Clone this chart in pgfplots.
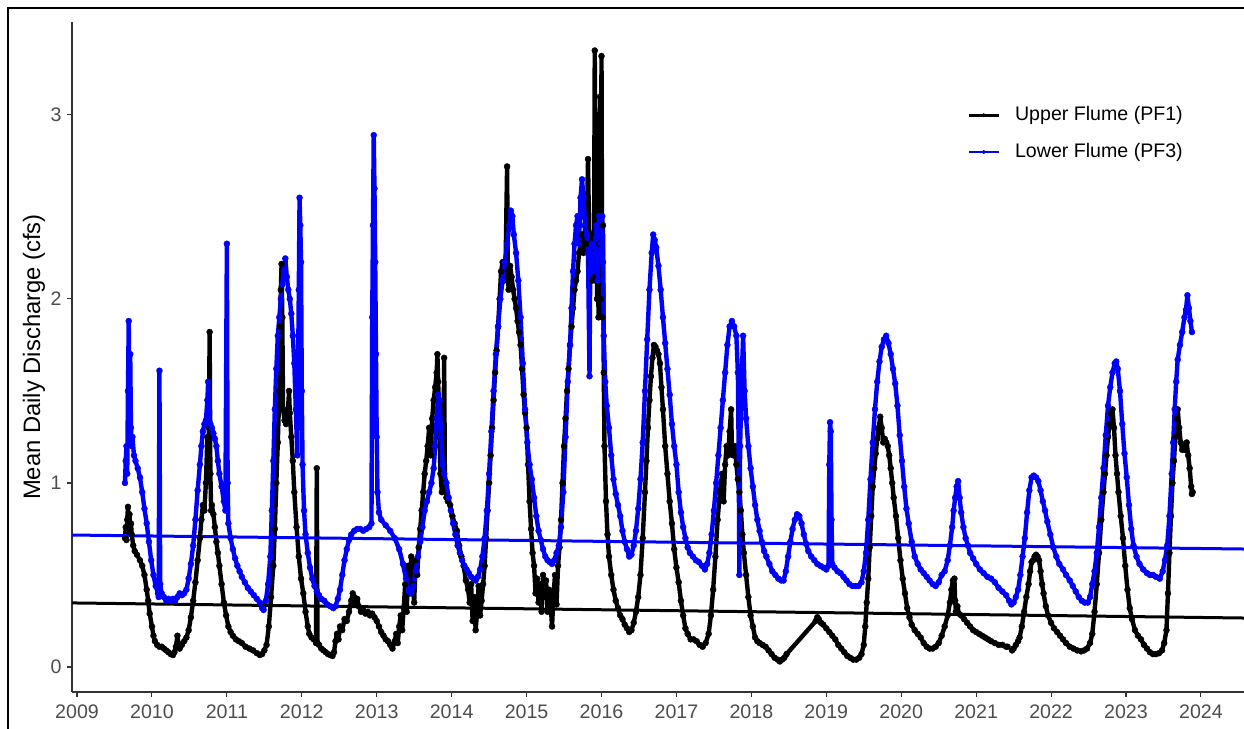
\documentclass[border=0pt]{standalone}
\usepackage{fontspec}
\setmainfont{Liberation Sans}
\usepackage{pgfplots}
\pgfplotsset{compat=1.18}
\definecolor{tickgray}{RGB}{77,77,77}
\definecolor{axgray}{RGB}{51,51,51}
\definecolor{pfblue}{RGB}{0,0,255}

\pgfplotstableread{
x y
2009.64 0.70
2009.65 0.76
2009.66 0.69
2009.67 0.80
2009.68 0.87
2009.69 0.79
2009.70 0.83
2009.71 0.75
2009.72 0.78
2009.73 0.72
2009.75 0.66
2009.77 0.63
2009.80 0.61
2009.84 0.58
2009.87 0.55
2009.90 0.50
2009.93 0.42
2009.95 0.36
2009.97 0.29
2010.00 0.22
2010.02 0.17
2010.04 0.14
2010.07 0.12
2010.10 0.11
2010.13 0.11
2010.16 0.10
2010.19 0.09
2010.22 0.08
2010.25 0.07
2010.28 0.065
2010.30 0.08
2010.32 0.11
2010.34 0.17
2010.35 0.13
2010.37 0.10
2010.40 0.12
2010.43 0.14
2010.46 0.16
2010.49 0.20
2010.52 0.27
2010.55 0.36
2010.58 0.46
2010.61 0.58
2010.64 0.70
2010.66 0.80
2010.68 0.88
2010.70 0.85
2010.72 1.00
2010.74 1.25
2010.75 1.10
2010.76 1.30
2010.77 1.82
2010.78 1.05
2010.79 0.85
2010.80 0.88
2010.82 0.83
2010.84 0.76
2010.86 0.68
2010.88 0.62
2010.90 0.55
2010.93 0.45
2010.96 0.35
2010.99 0.28
2011.02 0.22
2011.05 0.19
2011.08 0.17
2011.12 0.15
2011.16 0.14
2011.20 0.13
2011.25 0.11
2011.30 0.10
2011.35 0.09
2011.40 0.075
2011.44 0.065
2011.47 0.07
2011.50 0.09
2011.53 0.12
2011.56 0.22
2011.59 0.38
2011.62 0.55
2011.64 0.75
2011.66 1.00
2011.68 1.22
2011.70 1.50
2011.71 1.85
2011.72 2.05
2011.73 2.19
2011.74 1.90
2011.75 1.40
2011.77 1.34
2011.79 1.32
2011.81 1.36
2011.83 1.50
2011.84 1.38
2011.86 1.25
2011.88 1.12
2011.90 0.95
2011.93 0.76
2011.96 0.60
2011.99 0.48
2012.02 0.40
2012.05 0.30
2012.08 0.22
2012.10 0.18
2012.13 0.16
2012.16 0.15
2012.19 0.13
2012.20 1.08
2012.21 0.13
2012.23 0.12
2012.26 0.10
2012.29 0.09
2012.32 0.08
2012.35 0.07
2012.38 0.065
2012.41 0.06
2012.43 0.08
2012.45 0.14
2012.47 0.18
2012.49 0.15
2012.51 0.22
2012.54 0.20
2012.57 0.26
2012.60 0.25
2012.63 0.30
2012.66 0.36
2012.68 0.40
2012.70 0.38
2012.72 0.34
2012.74 0.37
2012.76 0.33
2012.79 0.30
2012.82 0.31
2012.85 0.29
2012.88 0.30
2012.91 0.28
2012.94 0.29
2012.97 0.27
2013.00 0.25
2013.03 0.22
2013.06 0.19
2013.09 0.17
2013.12 0.15
2013.15 0.14
2013.18 0.12
2013.21 0.10
2013.24 0.14
2013.26 0.18
2013.28 0.13
2013.30 0.22
2013.32 0.28
2013.34 0.20
2013.36 0.32
2013.38 0.45
2013.40 0.30
2013.42 0.55
2013.44 0.40
2013.46 0.60
2013.48 0.45
2013.50 0.35
2013.52 0.58
2013.54 0.50
2013.56 0.65
2013.58 0.75
2013.60 0.85
2013.62 0.95
2013.64 1.05
2013.66 1.12
2013.68 1.20
2013.70 1.30
2013.72 1.15
2013.74 1.35
2013.76 1.45
2013.78 1.52
2013.80 1.60
2013.81 1.70
2013.82 1.55
2013.84 1.25
2013.85 1.05
2013.87 0.95
2013.89 1.10
2013.90 1.68
2013.91 1.00
2013.93 0.92
2013.95 0.90
2013.98 0.88
2014.01 0.82
2014.04 0.78
2014.07 0.74
2014.10 0.66
2014.13 0.60
2014.16 0.55
2014.19 0.47
2014.22 0.42
2014.24 0.35
2014.26 0.45
2014.28 0.25
2014.30 0.38
2014.32 0.20
2014.34 0.30
2014.36 0.44
2014.38 0.28
2014.40 0.36
2014.42 0.45
2014.44 0.55
2014.46 0.70
2014.48 0.85
2014.50 1.00
2014.52 1.15
2014.54 1.30
2014.56 1.45
2014.58 1.60
2014.60 1.72
2014.62 1.85
2014.64 2.00
2014.66 2.15
2014.68 2.20
2014.70 2.10
2014.72 2.20
2014.74 2.72
2014.75 2.15
2014.76 2.05
2014.78 2.18
2014.80 2.12
2014.82 2.05
2014.84 2.00
2014.86 1.95
2014.88 1.88
2014.90 1.82
2014.92 1.75
2014.94 1.62
2014.96 1.48
2014.98 1.38
2015.00 1.30
2015.02 1.10
2015.04 0.90
2015.06 0.75
2015.08 0.62
2015.10 0.55
2015.12 0.40
2015.14 0.48
2015.16 0.35
2015.18 0.45
2015.20 0.30
2015.22 0.50
2015.24 0.38
2015.26 0.47
2015.28 0.30
2015.30 0.42
2015.32 0.35
2015.34 0.22
2015.36 0.40
2015.38 0.50
2015.40 0.34
2015.42 0.55
2015.44 0.65
2015.46 0.80
2015.48 1.00
2015.50 1.20
2015.52 1.35
2015.54 1.50
2015.56 1.62
2015.58 1.75
2015.60 1.85
2015.62 1.95
2015.64 2.05
2015.66 2.10
2015.68 2.15
2015.70 2.25
2015.72 2.30
2015.74 2.35
2015.76 2.25
2015.78 2.40
2015.80 2.30
2015.82 2.76
2015.84 2.20
2015.86 2.35
2015.88 2.10
2015.90 2.25
2015.91 3.35
2015.92 2.10
2015.93 3.00
2015.94 2.00
2015.95 2.60
2015.96 1.90
2015.97 2.30
2015.98 3.10
2015.99 2.00
2016.00 3.32
2016.01 1.90
2016.02 2.40
2016.03 1.60
2016.04 1.20
2016.06 0.90
2016.08 0.72
2016.10 0.60
2016.13 0.50
2016.16 0.42
2016.19 0.36
2016.22 0.32
2016.25 0.28
2016.28 0.26
2016.31 0.23
2016.34 0.21
2016.37 0.19
2016.40 0.20
2016.43 0.24
2016.46 0.30
2016.49 0.38
2016.52 0.50
2016.55 0.70
2016.58 0.95
2016.60 1.12
2016.62 1.30
2016.64 1.45
2016.66 1.58
2016.68 1.68
2016.70 1.75
2016.72 1.74
2016.74 1.72
2016.76 1.70
2016.78 1.65
2016.80 1.52
2016.82 1.40
2016.85 1.20
2016.88 1.05
2016.91 0.90
2016.94 0.78
2016.97 0.64
2017.00 0.54
2017.03 0.46
2017.06 0.36
2017.09 0.28
2017.12 0.21
2017.15 0.18
2017.19 0.15
2017.23 0.15
2017.27 0.14
2017.31 0.12
2017.35 0.11
2017.39 0.13
2017.43 0.18
2017.46 0.28
2017.49 0.42
2017.52 0.60
2017.55 0.80
2017.58 0.95
2017.61 1.05
2017.63 0.90
2017.65 1.10
2017.67 1.20
2017.69 1.15
2017.71 1.28
2017.73 1.40
2017.74 1.20
2017.76 1.15
2017.78 1.20
2017.80 1.10
2017.82 1.02
2017.84 0.95
2017.86 0.85
2017.88 0.72
2017.90 0.62
2017.93 0.50
2017.96 0.38
2017.99 0.28
2018.02 0.22
2018.05 0.16
2018.08 0.14
2018.11 0.13
2018.15 0.12
2018.19 0.11
2018.23 0.09
2018.27 0.07
2018.31 0.05
2018.35 0.04
2018.38 0.03
2018.41 0.04
2018.44 0.05
2018.47 0.07
2018.86 0.25
2018.88 0.27
2018.90 0.26
2018.93 0.24
2018.96 0.23
2019.00 0.21
2019.04 0.19
2019.08 0.17
2019.12 0.15
2019.16 0.12
2019.20 0.10
2019.24 0.08
2019.28 0.06
2019.32 0.05
2019.36 0.04
2019.40 0.04
2019.44 0.05
2019.47 0.07
2019.50 0.12
2019.52 0.22
2019.54 0.35
2019.56 0.48
2019.58 0.65
2019.60 0.82
2019.62 0.98
2019.64 1.08
2019.66 1.16
2019.68 1.24
2019.70 1.30
2019.72 1.36
2019.74 1.30
2019.76 1.22
2019.78 1.24
2019.80 1.22
2019.82 1.20
2019.84 1.15
2019.86 1.08
2019.88 1.00
2019.90 0.92
2019.93 0.82
2019.96 0.70
2019.99 0.58
2020.02 0.48
2020.05 0.40
2020.08 0.32
2020.11 0.27
2020.14 0.23
2020.18 0.20
2020.22 0.18
2020.26 0.16
2020.30 0.13
2020.34 0.11
2020.38 0.10
2020.42 0.10
2020.46 0.11
2020.50 0.13
2020.54 0.17
2020.58 0.22
2020.62 0.28
2020.65 0.35
2020.67 0.42
2020.69 0.47
2020.70 0.44
2020.71 0.48
2020.72 0.36
2020.73 0.30
2020.75 0.33
2020.77 0.29
2020.80 0.28
2020.84 0.26
2020.88 0.24
2020.92 0.22
2020.96 0.20
2021.00 0.19
2021.04 0.18
2021.08 0.17
2021.12 0.16
2021.16 0.15
2021.20 0.14
2021.25 0.13
2021.30 0.12
2021.35 0.12
2021.40 0.11
2021.42 0.11
2021.45 nan
2021.48 0.09
2021.50 0.10
2021.53 0.12
2021.56 0.14
2021.58 0.16
2021.61 0.22
2021.64 0.30
2021.67 0.38
2021.70 0.45
2021.72 0.52
2021.74 0.57
2021.76 0.58
2021.78 0.60
2021.80 0.61
2021.82 0.60
2021.84 0.58
2021.86 0.52
2021.88 0.45
2021.90 0.40
2021.93 0.33
2021.96 0.28
2022.00 0.24
2022.04 0.21
2022.08 0.19
2022.12 0.17
2022.16 0.15
2022.20 0.13
2022.25 0.11
2022.30 0.10
2022.35 0.09
2022.40 0.085
2022.44 0.09
2022.48 0.10
2022.52 0.13
2022.55 0.18
2022.58 0.30
2022.61 0.45
2022.64 0.62
2022.67 0.80
2022.70 0.95
2022.72 1.05
2022.74 1.15
2022.76 1.25
2022.78 1.32
2022.80 1.38
2022.82 1.40
2022.84 1.30
2022.86 1.15
2022.88 1.05
2022.90 0.95
2022.93 0.82
2022.96 0.70
2022.99 0.55
2023.02 0.42
2023.05 0.32
2023.08 0.26
2023.12 0.20
2023.16 0.17
2023.20 0.15
2023.24 0.12
2023.28 0.10
2023.32 0.08
2023.36 0.07
2023.40 0.07
2023.44 0.075
2023.48 0.09
2023.51 0.13
2023.54 0.20
2023.56 0.40
2023.58 0.62
2023.60 0.82
2023.62 1.00
2023.64 1.12
2023.66 1.25
2023.68 1.35
2023.69 1.40
2023.71 1.30
2023.73 1.22
2023.75 1.18
2023.77 1.20
2023.79 1.18
2023.81 1.22
2023.83 1.15
2023.85 1.08
2023.87 0.98
2023.88 0.94
2023.89 0.95
}\pfone

\pgfplotstableread{
x y
2009.64 1.00
2009.65 1.12
2009.66 1.20
2009.67 1.05
2009.68 1.50
2009.69 1.88
2009.70 1.45
2009.71 1.70
2009.72 1.30
2009.73 1.20
2009.74 1.25
2009.76 1.15
2009.78 1.12
2009.81 1.08
2009.84 1.03
2009.87 0.95
2009.90 0.86
2009.93 0.78
2009.96 0.68
2009.99 0.58
2010.02 0.50
2010.05 0.44
2010.08 0.40
2010.09 0.38
2010.10 1.61
2010.11 0.45
2010.13 0.40
2010.16 0.38
2010.19 0.36
2010.22 0.37
2010.25 0.36
2010.28 0.37
2010.31 0.36
2010.34 0.38
2010.37 0.40
2010.40 0.39
2010.43 0.40
2010.46 0.42
2010.49 0.48
2010.52 0.56
2010.55 0.66
2010.58 0.80
2010.61 0.96
2010.64 1.10
2010.66 1.20
2010.68 1.28
2010.70 1.32
2010.72 1.34
2010.74 1.45
2010.75 1.55
2010.76 1.38
2010.78 1.32
2010.80 1.30
2010.82 1.27
2010.84 1.24
2010.86 1.20
2010.88 1.12
2010.90 1.05
2010.93 0.98
2010.96 0.90
2010.98 0.85
2011.00 2.30
2011.01 1.00
2011.02 0.78
2011.05 0.70
2011.08 0.64
2011.11 0.59
2011.14 0.55
2011.17 0.52
2011.20 0.49
2011.24 0.46
2011.28 0.43
2011.32 0.41
2011.36 0.39
2011.40 0.37
2011.44 0.35
2011.47 0.32
2011.49 0.31
2011.52 0.36
2011.55 0.45
2011.58 0.60
2011.60 0.85
2011.62 1.12
2011.64 1.40
2011.66 1.62
2011.68 1.80
2011.70 1.90
2011.72 2.00
2011.74 2.08
2011.76 2.15
2011.78 2.22
2011.80 2.12
2011.82 2.05
2011.84 2.00
2011.86 1.92
2011.88 1.80
2011.90 1.65
2011.92 1.40
2011.94 1.15
2011.95 1.60
2011.96 2.05
2011.97 2.55
2011.98 2.40
2011.99 2.20
2012.00 1.50
2012.01 1.10
2012.03 0.85
2012.05 0.72
2012.08 0.62
2012.11 0.54
2012.14 0.48
2012.17 0.44
2012.20 0.41
2012.23 0.39
2012.26 0.37
2012.30 0.36
2012.34 0.34
2012.38 0.33
2012.42 0.32
2012.45 0.33
2012.48 0.37
2012.51 0.42
2012.54 0.50
2012.57 0.58
2012.60 0.64
2012.63 0.69
2012.66 0.72
2012.70 0.74
2012.74 0.75
2012.78 0.75
2012.82 0.74
2012.86 0.75
2012.90 0.76
2012.93 0.78
2012.94 1.90
2012.95 2.40
2012.96 2.89
2012.97 2.60
2012.98 2.20
2012.99 1.70
2013.00 1.25
2013.01 0.95
2013.03 0.84
2013.06 0.80
2013.12 0.77
2013.18 0.74
2013.24 0.70
2013.30 0.64
2013.35 0.56
2013.39 0.48
2013.43 0.41
2013.46 0.40
2013.49 0.44
2013.52 0.52
2013.55 0.60
2013.58 0.68
2013.61 0.76
2013.64 0.85
2013.67 0.90
2013.70 0.95
2013.73 1.00
2013.76 1.08
2013.78 1.20
2013.80 1.35
2013.82 1.48
2013.84 1.45
2013.86 1.25
2013.88 1.10
2013.90 1.05
2013.93 1.00
2013.96 0.92
2013.99 0.85
2014.02 0.78
2014.05 0.72
2014.08 0.66
2014.11 0.62
2014.14 0.58
2014.17 0.55
2014.20 0.53
2014.23 0.51
2014.26 0.49
2014.29 0.48
2014.32 0.47
2014.35 0.49
2014.38 0.53
2014.41 0.60
2014.44 0.70
2014.47 0.85
2014.50 1.05
2014.53 1.28
2014.56 1.50
2014.59 1.70
2014.62 1.85
2014.65 2.00
2014.68 2.10
2014.71 2.20
2014.74 2.30
2014.77 2.40
2014.79 2.48
2014.81 2.45
2014.83 2.35
2014.86 2.25
2014.89 2.10
2014.92 1.90
2014.95 1.65
2014.98 1.40
2015.01 1.22
2015.04 1.10
2015.07 1.02
2015.10 0.92
2015.13 0.82
2015.16 0.74
2015.19 0.69
2015.22 0.64
2015.25 0.60
2015.28 0.58
2015.31 0.57
2015.34 0.56
2015.37 0.58
2015.40 0.62
2015.43 0.66
2015.46 0.76
2015.49 0.95
2015.52 1.25
2015.55 1.55
2015.58 1.75
2015.60 1.95
2015.62 2.15
2015.64 2.30
2015.66 2.40
2015.68 2.45
2015.70 2.30
2015.72 2.55
2015.74 2.65
2015.76 2.55
2015.78 2.40
2015.80 2.35
2015.82 2.25
2015.84 1.58
2015.85 2.20
2015.87 2.30
2015.89 2.15
2015.91 2.25
2015.93 2.40
2015.95 2.10
2015.97 2.45
2015.99 2.30
2016.01 2.45
2016.02 2.20
2016.03 1.80
2016.05 1.55
2016.07 1.42
2016.10 1.30
2016.13 1.15
2016.16 1.02
2016.19 0.94
2016.22 0.88
2016.25 0.82
2016.28 0.74
2016.31 0.68
2016.34 0.64
2016.37 0.60
2016.40 0.61
2016.43 0.66
2016.46 0.74
2016.49 0.86
2016.52 1.02
2016.55 1.22
2016.58 1.50
2016.61 1.78
2016.64 2.05
2016.67 2.25
2016.69 2.35
2016.71 2.32
2016.73 2.28
2016.76 2.18
2016.79 2.05
2016.82 1.90
2016.85 1.76
2016.88 1.62
2016.91 1.48
2016.94 1.32
2016.97 1.20
2017.00 1.10
2017.03 0.95
2017.06 0.84
2017.09 0.76
2017.12 0.70
2017.15 0.65
2017.18 0.62
2017.22 0.60
2017.26 0.58
2017.30 0.57
2017.34 0.55
2017.38 0.53
2017.41 0.56
2017.44 0.62
2017.47 0.72
2017.50 0.85
2017.53 1.00
2017.56 1.15
2017.59 1.30
2017.62 1.45
2017.65 1.60
2017.68 1.75
2017.71 1.85
2017.74 1.88
2017.77 1.85
2017.80 1.80
2017.82 1.60
2017.83 1.20
2017.84 0.50
2017.85 1.20
2017.87 1.55
2017.89 1.80
2017.91 1.50
2017.93 1.35
2017.96 1.20
2017.99 1.08
2018.02 0.98
2018.05 0.88
2018.08 0.80
2018.11 0.74
2018.14 0.68
2018.17 0.63
2018.20 0.60
2018.24 0.56
2018.28 0.52
2018.32 0.50
2018.36 0.48
2018.40 0.47
2018.43 0.47
2018.46 0.52
2018.49 0.60
2018.52 0.68
2018.55 0.75
2018.58 0.80
2018.61 0.83
2018.64 0.82
2018.67 0.78
2018.70 0.72
2018.73 0.67
2018.76 0.63
2018.80 0.60
2018.84 0.58
2018.88 0.56
2018.92 0.55
2018.96 0.54
2019.00 0.53
2019.03 0.55
2019.04 1.10
2019.05 1.33
2019.06 1.28
2019.07 0.80
2019.08 0.56
2019.11 0.54
2019.15 0.52
2019.19 0.51
2019.23 0.49
2019.27 0.47
2019.31 0.45
2019.35 0.44
2019.39 0.44
2019.43 0.44
2019.47 0.46
2019.50 0.52
2019.53 0.62
2019.56 0.80
2019.59 1.02
2019.62 1.22
2019.65 1.40
2019.68 1.55
2019.71 1.66
2019.74 1.74
2019.77 1.78
2019.80 1.80
2019.83 1.76
2019.86 1.70
2019.89 1.62
2019.92 1.54
2019.95 1.42
2019.98 1.26
2020.01 1.12
2020.04 0.98
2020.07 0.86
2020.10 0.78
2020.14 0.68
2020.18 0.60
2020.22 0.56
2020.26 0.53
2020.30 0.51
2020.34 0.49
2020.38 0.47
2020.42 0.45
2020.46 0.44
2020.50 0.46
2020.54 0.50
2020.58 0.52
2020.62 0.58
2020.65 0.66
2020.68 0.76
2020.70 0.85
2020.72 0.92
2020.74 0.98
2020.76 1.01
2020.78 0.92
2020.80 0.84
2020.83 0.76
2020.86 0.70
2020.89 0.66
2020.92 0.62
2020.96 0.59
2021.00 0.56
2021.05 0.53
2021.10 0.51
2021.15 0.49
2021.20 0.48
2021.25 0.46
2021.30 0.43
2021.35 0.41
2021.40 0.39
2021.44 0.36
2021.47 0.34
2021.50 0.35
2021.53 0.38
2021.56 0.42
2021.59 0.50
2021.62 0.60
2021.65 0.70
2021.68 0.84
2021.71 0.96
2021.74 1.03
2021.77 1.04
2021.80 1.03
2021.83 1.01
2021.86 0.96
2021.89 0.90
2021.92 0.85
2021.95 0.79
2021.99 0.72
2022.03 0.65
2022.07 0.60
2022.11 0.56
2022.16 0.53
2022.20 0.50
2022.25 0.47
2022.29 0.44
2022.33 0.41
2022.37 0.38
2022.41 0.36
2022.45 0.35
2022.49 0.35
2022.52 0.38
2022.55 0.45
2022.58 0.52
2022.61 0.62
2022.64 0.76
2022.67 0.92
2022.70 1.08
2022.73 1.26
2022.76 1.42
2022.79 1.52
2022.82 1.60
2022.85 1.65
2022.87 1.66
2022.89 1.62
2022.92 1.50
2022.95 1.32
2022.98 1.16
2023.01 1.03
2023.04 0.88
2023.07 0.75
2023.10 0.66
2023.14 0.60
2023.18 0.56
2023.23 0.53
2023.28 0.51
2023.32 0.50
2023.36 0.50
2023.40 0.49
2023.45 0.48
2023.49 0.52
2023.52 0.58
2023.55 0.66
2023.58 0.82
2023.61 1.05
2023.63 1.22
2023.65 1.40
2023.67 1.55
2023.69 1.67
2023.72 1.75
2023.75 1.82
2023.78 1.90
2023.80 1.94
2023.82 2.02
2023.84 1.95
2023.86 1.88
2023.88 1.82
}\pfthree

\begin{document}
\begin{tikzpicture}
\useasboundingbox (0,0) rectangle (622pt,364.5pt);
\fill[white] (0,0) rectangle (622pt,364.5pt);
\begin{axis}[
  at={(36pt,18.5pt)}, anchor=south west,
  width=586pt, height=335pt, scale only axis,
  xmin=2008.933, xmax=2024.575, ymin=-0.136, ymax=3.505,
  axis x line=bottom, axis y line=left,
  every outer x axis line/.append style={-},
  every outer y axis line/.append style={-},
  axis line style={axgray, line width=0.55pt},
  xtick={2009,2010,2011,2012,2013,2014,2015,2016,2017,2018,2019,2020,2021,2022,2023,2024},
  ytick={0,1,2,3},
  scaled x ticks=false,
  xticklabel={\pgfmathprintnumber[fixed,precision=0,1000 sep={}]{\tick}},
  tick align=outside, major tick length=2.5pt,
  tick style={axgray, line width=0.55pt},
  /pgf/number format/assume math mode=true,
  tick label style={font=\fontsize{9.8}{11}\selectfont, text=tickgray},
  xticklabel style={inner sep=3.5pt},
  yticklabel style={inner sep=2.5pt},
  ylabel={Mean Daily Discharge (cfs)},
  ylabel style={at={(axis description cs:-0.0324,0.5)}, anchor=center, font=\fontsize{11.9}{14}\selectfont},
  unbounded coords=jump,
  legend cell align=left,
  legend style={draw=none, fill=none, inner sep=0pt, at={(axis description cs:0.7637,0.875)}, anchor=north west,
    font=\fontsize{9.8}{11}\selectfont, row sep=9.3pt, column sep=7.5pt,
    nodes={inner sep=0pt, text height=7.1pt, text depth=2pt}},
  legend image code/.code={\draw[mark repeat=2,mark phase=2,#1,line width=1.3pt,mark size=0.9pt] plot coordinates {(0pt,0pt) (7.5pt,0pt) (15pt,0pt)};},
]
\addplot[black, line width=2.2pt, line join=round, mark=*, mark size=1.5pt, mark options={line width=0.2pt}] table[x=x,y=y] {\pfone};
\addlegendentry{Upper Flume (PF1)}
\addplot[pfblue, line width=2.2pt, line join=round, mark=*, mark size=1.5pt, mark options={line width=0.2pt}] table[x=x,y=y] {\pfthree};
\addlegendentry{Lower Flume (PF3)}
\addplot[black, line width=1.5pt, forget plot] coordinates {(2008.933,0.348) (2024.575,0.266)};
\addplot[pfblue, line width=1.5pt, forget plot] coordinates {(2008.933,0.717) (2024.575,0.641)};
\end{axis}
\draw[line width=1pt] (3.75pt,0pt) -- (3.75pt,360.5pt) -- (622pt,360.5pt);
\end{tikzpicture}
\end{document}
